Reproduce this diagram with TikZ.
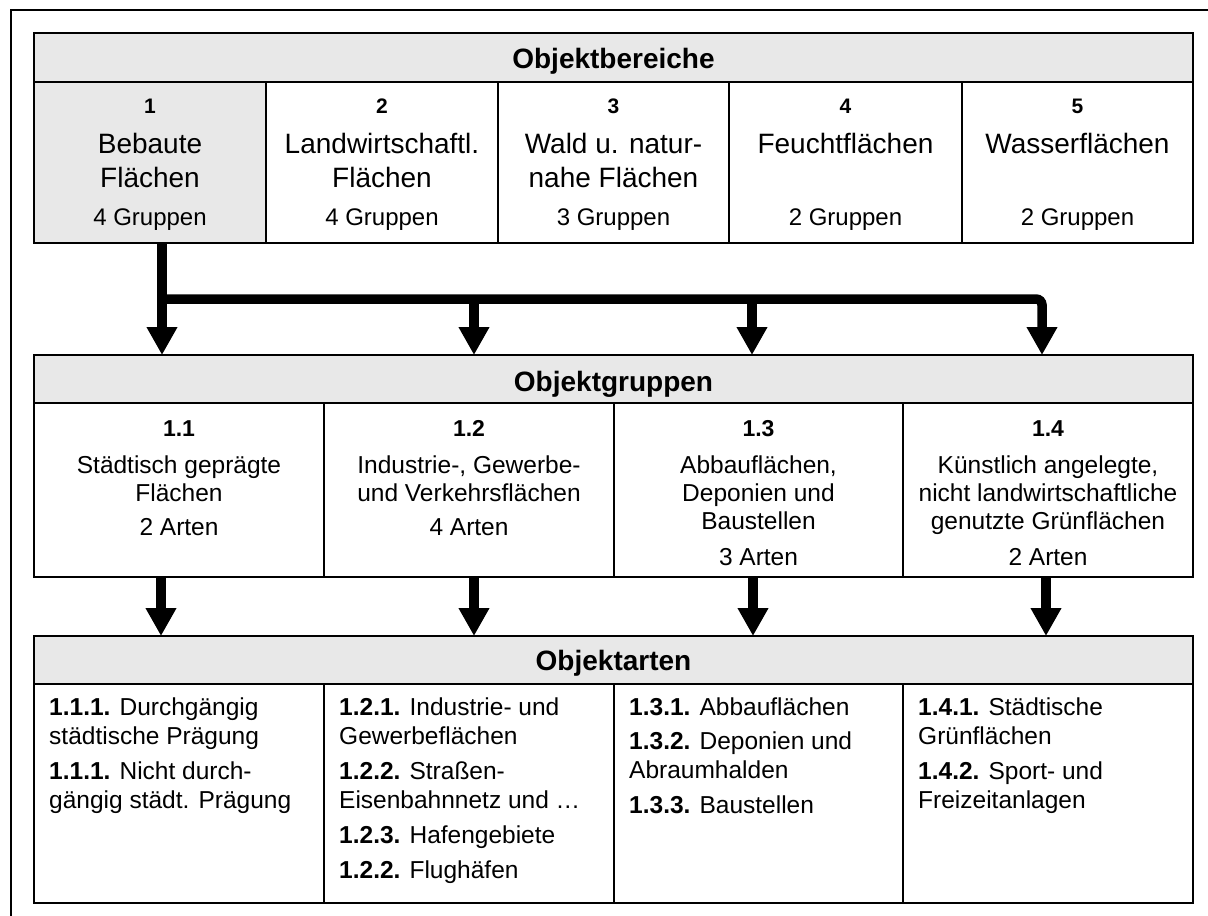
\documentclass[tikz,border=0pt]{standalone}
\usepackage{fontspec}
\setmainfont{Liberation Sans}
\usetikzlibrary{arrows.meta}
\definecolor{hdrgray}{RGB}{232,232,232}
\begin{document}
\begin{tikzpicture}[x=1pt,y=-1pt,
  box/.style={draw, line width=1.8pt, inner sep=0pt, outer sep=0pt},
  hdrbox/.style={box, fill=hdrgray, minimum width=1159pt, minimum height=49pt},
  hdrtxt/.style={anchor=base, inner sep=0pt, font=\fontsize{28}{34}\selectfont\bfseries},
  areanum/.style={anchor=base, inner sep=0pt, font=\fontsize{21}{25}\selectfont\bfseries},
  areatxt/.style={anchor=base, inner sep=0pt, font=\fontsize{28}{34}\selectfont},
  cnttxt/.style={anchor=base, inner sep=0pt, font=\fontsize{24}{29}\selectfont},
  grpnum/.style={anchor=base, inner sep=0pt, font=\fontsize{23}{28}\selectfont\bfseries},
  grptxt/.style={anchor=base, inner sep=0pt, font=\fontsize{24.5}{29}\selectfont},
  itemtxt/.style={anchor=base west, inner sep=0pt, font=\fontsize{24.5}{29}\selectfont},
  flow/.style={line width=9.5pt, -{Triangle[width=29pt,length=28pt]}}
]
\useasboundingbox (0,0) rectangle (1208,916);

% outer frame (only the left and top edges lie inside the page)
\draw[line width=2pt] (11,916) -- (11,10) -- (1208,10);

% ---------- Objektbereiche ----------
\node[hdrbox] (bh) at (613.5,57.5) {};
\node[hdrtxt] (bhT) at (613.5,68) {Objektbereiche};
\node[box, fill=hdrgray, minimum width=232pt, minimum height=161pt] (b1) at (150,162.5) {};
\node[box, minimum width=232pt, minimum height=161pt] (b2) at (382,162.5) {};
\node[box, minimum width=231pt, minimum height=161pt] (b3) at (613.5,162.5) {};
\node[box, minimum width=233pt, minimum height=161pt] (b4) at (845.5,162.5) {};
\node[box, minimum width=231pt, minimum height=161pt] (b5) at (1077.5,162.5) {};

\node[areanum] (b1n) at (150,113) {1};
\node[areatxt] (b1a) at (150,153) {Bebaute};
\node[areatxt] (b1b) at (150,187) {Flächen};
\node[cnttxt] (b1c) at (150,225) {4 Gruppen};

\node[areanum] (b2n) at (382,113) {2};
\node[areatxt] (b2a) at (382,153) {Landwirtschaftl.};
\node[areatxt] (b2b) at (382,187) {Flächen};
\node[cnttxt] (b2c) at (382,225) {4 Gruppen};

\node[areanum] (b3n) at (613.5,113) {3};
\node[areatxt] (b3a) at (613.5,153) {Wald u. natur-};
\node[areatxt] (b3b) at (613.5,187) {nahe Flächen};
\node[cnttxt] (b3c) at (613.5,225) {3 Gruppen};

\node[areanum] (b4n) at (845.5,113) {4};
\node[areatxt] (b4a) at (845.5,153) {Feuchtflächen};
\node[cnttxt] (b4c) at (845.5,225) {2 Gruppen};

\node[areanum] (b5n) at (1077.5,113) {5};
\node[areatxt] (b5a) at (1077.5,153) {Wasserflächen};
\node[cnttxt] (b5c) at (1077.5,225) {2 Gruppen};

% ---------- Objektgruppen ----------
\node[hdrbox, minimum height=48pt] (gh) at (613.5,379) {};
\node[hdrtxt] (ghT) at (613.5,391) {Objektgruppen};
\node[box, minimum width=290pt, minimum height=174pt] (g1) at (179,490) {};
\node[box, minimum width=290pt, minimum height=174pt] (g2) at (469,490) {};
\node[box, minimum width=289pt, minimum height=174pt] (g3) at (758.5,490) {};
\node[box, minimum width=290pt, minimum height=174pt] (g4) at (1048,490) {};

\node[grpnum] (g1n) at (179,436) {1.1};
\node[grptxt] (g1a) at (179,473) {Städtisch geprägte};
\node[grptxt] (g1b) at (179,501) {Flächen};
\node[grptxt] (g1c) at (179,535) {2 Arten};

\node[grpnum] (g2n) at (469,436) {1.2};
\node[grptxt] (g2a) at (469,473) {Industrie-, Gewerbe-};
\node[grptxt] (g2b) at (469,501) {und Verkehrsflächen};
\node[grptxt] (g2c) at (469,535) {4 Arten};

\node[grpnum] (g3n) at (758.5,436) {1.3};
\node[grptxt] (g3a) at (758.5,473) {Abbauflächen,};
\node[grptxt] (g3b) at (758.5,501) {Deponien und};
\node[grptxt] (g3d) at (758.5,529) {Baustellen};
\node[grptxt] (g3c) at (758.5,565) {3 Arten};

\node[grpnum] (g4n) at (1048,436) {1.4};
\node[grptxt] (g4a) at (1048,473) {Künstlich angelegte,};
\node[grptxt] (g4b) at (1048,501) {nicht landwirtschaftliche};
\node[grptxt] (g4d) at (1048,529) {genutzte Grünflächen};
\node[grptxt] (g4c) at (1048,565) {2 Arten};

% ---------- Objektarten ----------
\node[hdrbox, minimum height=48pt] (ah) at (613.5,660) {};
\node[hdrtxt] (ahT) at (613.5,670) {Objektarten};
\node[box, minimum width=290pt, minimum height=219pt] (a1) at (179,793.5) {};
\node[box, minimum width=290pt, minimum height=219pt] (a2) at (469,793.5) {};
\node[box, minimum width=289pt, minimum height=219pt] (a3) at (758.5,793.5) {};
\node[box, minimum width=290pt, minimum height=219pt] (a4) at (1048,793.5) {};

\node[itemtxt] (a1a) at (49,715) {\textbf{1.1.1.} Durchgängig};
\node[itemtxt] (a1b) at (49,744) {städtische Prägung};
\node[itemtxt] (a1c) at (49,779) {\textbf{1.1.1.} Nicht durch-};
\node[itemtxt] (a1d) at (49,808) {gängig städt. Prägung};

\node[itemtxt] (a2a) at (339,715) {\textbf{1.2.1.} Industrie- und};
\node[itemtxt] (a2b) at (339,744) {Gewerbeflächen};
\node[itemtxt] (a2c) at (339,779) {\textbf{1.2.2.} Straßen-};
\node[itemtxt] (a2d) at (339,808) {Eisenbahnnetz und …};
\node[itemtxt] (a2e) at (339,843) {\textbf{1.2.3.} Hafengebiete};
\node[itemtxt] (a2f) at (339,878) {\textbf{1.2.2.} Flughäfen};

\node[itemtxt] (a3a) at (629,715) {\textbf{1.3.1.} Abbauflächen};
\node[itemtxt] (a3b) at (629,749) {\textbf{1.3.2.} Deponien und};
\node[itemtxt] (a3c) at (629,778) {Abraumhalden};
\node[itemtxt] (a3d) at (629,813) {\textbf{1.3.3.} Baustellen};

\node[itemtxt] (a4a) at (918,715) {\textbf{1.4.1.} Städtische};
\node[itemtxt] (a4b) at (918,744) {Grünflächen};
\node[itemtxt] (a4c) at (918,779) {\textbf{1.4.2.} Sport- und};
\node[itemtxt] (a4d) at (918,808) {Freizeitanlagen};

% ---------- connectors ----------
\coordinate (j1) at (162,299);
\coordinate (j2) at (474,299);
\coordinate (j3) at (752,299);
\coordinate (j4) at (1042,299);
\draw[flow] (j1 |- b1.south) -- (j1 |- gh.north);
\draw[flow, rounded corners=6pt] (j1) -- (j4) -- (j4 |- gh.north);
\draw[flow] (j2) -- (j2 |- gh.north);
\draw[flow] (j3) -- (j3 |- gh.north);

\coordinate (k1) at (161,600);
\coordinate (k2) at (474,600);
\coordinate (k3) at (753,600);
\coordinate (k4) at (1046,600);
\draw[flow] (k1 |- g1.south) -- (k1 |- ah.north);
\draw[flow] (k2 |- g2.south) -- (k2 |- ah.north);
\draw[flow] (k3 |- g3.south) -- (k3 |- ah.north);
\draw[flow] (k4 |- g4.south) -- (k4 |- ah.north);
\end{tikzpicture}
\end{document}
